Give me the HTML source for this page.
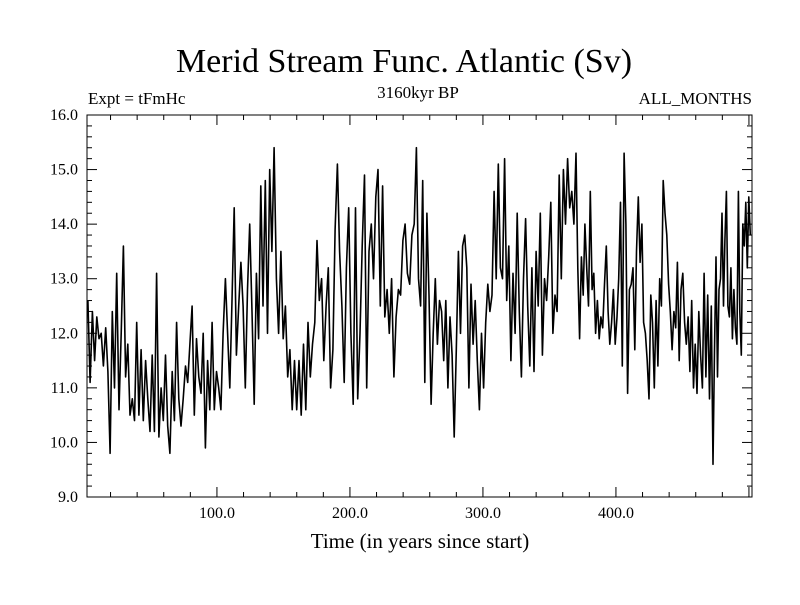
<!DOCTYPE html>
<html><head><meta charset="utf-8"><style>
body{margin:0;background:#fff;}
svg text{font-family:"Liberation Serif",serif;fill:#000;}
</style></head><body>
<svg id="chart" width="800" height="600" viewBox="0 0 800 600" xmlns="http://www.w3.org/2000/svg">
<rect width="800" height="600" fill="#fff"/>
<text x="404" y="72" font-size="34" text-anchor="middle">Merid Stream Func. Atlantic (Sv)</text>
<text x="88" y="104" font-size="17">Expt = tFmHc</text>
<text x="418" y="98" font-size="17" text-anchor="middle">3160kyr BP</text>
<text x="752" y="104" font-size="17" text-anchor="end">ALL_MONTHS</text>
<text x="420" y="548" font-size="21" text-anchor="middle">Time (in years since start)</text>
<g id="axes"></g>
<path id="series" fill="none" stroke="#000" stroke-width="1.6" stroke-linejoin="round"/>
<rect x="87" y="115" width="665" height="382" fill="none" stroke="#000" stroke-width="1"/>
</svg>
<script>
const yTicks=[9,10,11,12,13,14,15,16];
const yTickLabels=["9.0","10.0","11.0","12.0","13.0","14.0","15.0","16.0"];
const xTicks=[100,200,300,400];
const xTickLabels=["100.0","200.0","300.0","400.0"];
const anchorYears=[3,143,250,370,473,501];
const seg1=[12.6,11.1,12.4,11.5,12.3,11.9,12.0,11.4,12.1,11.3,9.8,12.4,11.0,13.1,10.6,12.0,13.6,11.2,11.8,10.5,10.8,10.4,12.2,10.5,11.7,10.4,11.5,10.8,10.2,11.6,10.2,13.1,10.1,11.0,10.4,11.6,10.3,9.8,11.3,10.4,12.2,10.8,10.3,10.8,11.4,11.1,11.8,12.5,10.5,11.9,11.2,10.9,12.0,9.9,11.5,10.6,12.2,10.6,11.3,11.0,10.6,12.0,13.0,12.0,11.0,12.6,14.3,11.6,12.5,13.3,12.5,11.0,12.8,14.0,12.4,10.7,13.1,11.9,14.7,12.5,14.8,12.0,15.0,13.5,15.4];
const seg2=[13.0,12.0,13.5,11.9,12.5,11.2,11.7,10.6,11.5,10.6,11.5,10.5,11.8,10.6,12.2,11.2,11.8,12.2,13.7,12.6,13.0,11.5,12.5,13.2,11.0,11.7,13.9,15.1,13.5,12.5,11.1,13.2,14.3,12.0,10.7,14.3,10.8,12.0,13.6,14.9,11.0,13.5,14.0,13.0,14.5,15.0,12.5,14.7,12.3,12.8,12.0,13.0,11.2,12.3,12.8,12.7,13.7,14.0,13.1,12.9,13.8,14.0,15.4];
const seg3=[13.0,12.5,14.8,11.1,14.2,12.7,10.7,12.0,13.0,11.8,12.6,12.4,11.5,12.6,11.0,12.3,11.6,10.1,11.7,13.5,12.0,13.6,13.8,13.2,11.0,12.9,11.8,12.6,11.5,10.6,12.0,11.0,12.2,12.9,12.4,12.7,14.6,13.0,15.1,13.2,13.0,15.2,12.6,13.6,11.5,13.1,12.0,14.2,12.4,11.2,13.0,14.1,12.5,11.4,13.2,11.3,13.5,12.5,14.2,11.6,13.0,12.6,13.4,14.4,12.0,12.7,12.4,14.9,13.0,15.0,14.0,15.2,14.3,14.6,14.0,15.3];
const seg4=[13.2,11.9,13.4,12.7,14.0,13.2,12.5,14.6,12.8,13.1,12.0,12.6,11.9,12.3,12.1,12.9,13.6,12.4,11.8,12.2,12.8,11.8,12.3,13.0,14.4,11.4,15.3,14.0,10.9,12.8,12.9,13.2,11.7,13.5,14.5,13.3,14.0,12.2,12.0,11.5,10.8,12.7,12.2,11.0,12.6,11.4,13.0,12.5,14.8,14.2,13.8,12.9,12.4,11.7,12.4,12.1,13.3,11.5,12.8,13.1,12.2,11.8,12.3,11.3,12.6,11.0,11.8,10.9,12.4,11.6,11.0,13.1,11.2,12.7,10.8,12.5,9.6];
const seg5=[11.7,13.4,11.2,12.8,13.0,14.2,12.5,13.7,14.6,12.5,12.3,13.2,11.9,12.8,12.1,11.8,14.6,12.4,11.6,14.0,13.6,14.4,13.2,14.5,13.8];
const segments=[seg1,seg2,seg3,seg4,seg5];
const X0=87,X1=752,Y0=497,Y1=115;
const xMin=2.3,xMax=502.3,yMin=9,yMax=16;
const xs=v=>X0+(v-xMin)/(xMax-xMin)*(X1-X0);
const ys=v=>Y0-(v-yMin)/(yMax-yMin)*(Y0-Y1);
const NS="http://www.w3.org/2000/svg";
const ax=document.getElementById('axes');
function line(x1,y1,x2,y2,name){const l=document.createElementNS(NS,'line');l.setAttribute('x1',x1);l.setAttribute('y1',y1);l.setAttribute('x2',x2);l.setAttribute('y2',y2);l.setAttribute('stroke','#000');l.setAttribute('stroke-width','1');


ax.appendChild(l);}
function text(x,y,s,anchor,name){const t=document.createElementNS(NS,'text');t.setAttribute('x',x);t.setAttribute('y',y);t.setAttribute('font-size','16');t.setAttribute('text-anchor',anchor);t.textContent=s;


ax.appendChild(t);}
for(let v=yMin;v<=yMax+1e-9;v+=0.2){const y=ys(v);const major=Math.abs(v-Math.round(v))<1e-6;const L=major?10:5;line(X0,y,X0+L,y,'y-tick');line(X1-L,y,X1,y,'y-tick-right');}
yTicks.forEach((v,i)=>text(78,ys(v)+5,yTickLabels[i],'end','y-tick-label'));
for(let v=20;v<=500;v+=20){const x=xs(v);const major=v%100===0;const L=major?10:5;line(x,Y0,x,Y0-L,'x-tick');line(x,Y1,x,Y1+L,'x-tick-top');}
xTicks.forEach((v,i)=>text(xs(v),518,xTickLabels[i],'middle','x-tick-label'));
let d='';
segments.forEach((seg,k)=>{const a=anchorYears[k],b=anchorYears[k+1];const n=seg.length;
seg.forEach((v,i)=>{const yr=k===0?a+i*(b-a)/(n-1):a+(i+1)*(b-a)/n;d+=(d?'L':'M')+xs(yr).toFixed(1)+' '+ys(v).toFixed(1);});});
document.getElementById('series').setAttribute('d',d);
</script>
</body></html>
